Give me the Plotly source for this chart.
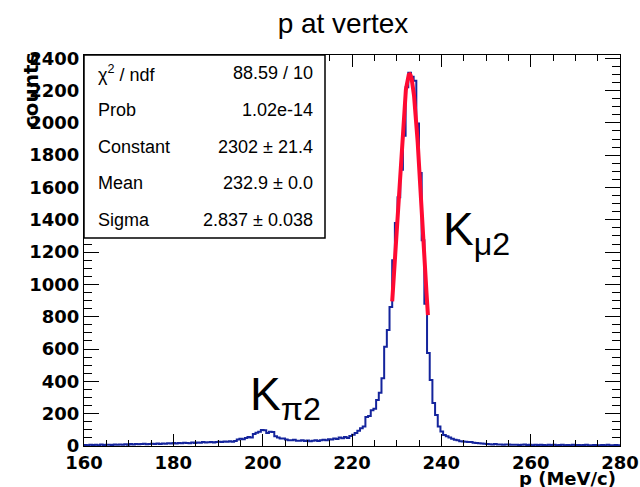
import numpy as np
import plotly.graph_objects as go

# ---------------- data ----------------
x_min, x_max, bin_width = 160.0, 280.0, 0.6
counts = [
    6, 5, 8, 6, 7, 5, 9, 6, 8, 7, 6, 10, 7, 9, 8, 11, 8,
    12, 10, 13, 11, 12, 14, 11, 13,
    14, 12, 15, 13, 16, 14, 17, 15,
    18, 16, 19, 17, 20, 18, 17, 21, 19,
    22, 20, 24, 21, 23, 25, 22, 24,
    26, 24, 28, 27, 30, 26, 31,
    40, 45, 42,
    50, 56, 52,
    75, 82, 88,
    99, 97, 80, 88, 86, 60, 52, 47, 46, 40, 36, 35, 38, 33,
    32, 35, 31, 34, 30, 33, 36, 31, 35, 38, 36, 42, 40, 47, 44, 52, 48, 55, 50, 62,
    70, 80, 95, 110, 120, 180, 185, 222, 230, 285, 330, 420,
    614, 718, 860, 1150, 1380, 1540, 1710, 1920, 2220, 2310,
    2285, 2260, 1996, 1690, 1274, 880, 575, 408, 266, 192,
    120, 90, 68, 60, 52, 45, 38, 36,
    30, 28, 27, 24, 25, 20, 18, 17, 16, 14, 12, 11, 10, 12, 9, 10, 8, 9, 10, 8,
    7, 8, 6, 7, 9, 6, 7, 5, 8, 6, 7, 6, 5, 7, 6, 8, 5, 6, 7, 5,
    6, 5, 7, 4, 6, 5, 6, 7, 5, 4, 6, 5, 4, 6, 5, 7, 4, 5, 6, 4,
]

fit_constant = 2302.0
fit_mean = 232.9
fit_sigma = 2.837
fit_low, fit_high = 229.0, 237.0

stats_labels = ["χ<sup>2</sup> / ndf", "Prob", "Constant", "Mean", "Sigma"]
stats_values = ["88.59 / 10", "1.02e-14", "2302 ± 21.4", "232.9 ± 0.0", "2.837 ± 0.038"]

title_text = "p at vertex"
x_title = "p (MeV/c)"
y_title = "counts"

# ---------------- figure ----------------
n_bins = len(counts)
edges = x_min + bin_width * np.arange(n_bins + 1)
step_y = counts + [counts[-1]]

fx = np.linspace(fit_low, fit_high, 200)
fy = fit_constant * np.exp(-0.5 * ((fx - fit_mean) / fit_sigma) ** 2)

HIST_COLOR = "#14249c"
FIT_COLOR = "#ff0a32"

fig = go.Figure()
fig.add_trace(go.Scatter(x=edges, y=step_y, mode="lines",
                         line=dict(shape="hv", color=HIST_COLOR, width=2),
                         hoverinfo="skip"))
fig.add_trace(go.Scatter(x=fx, y=fy, mode="lines",
                         line=dict(color=FIT_COLOR, width=4),
                         hoverinfo="skip"))

L, R, T, B = 84, 20, 55, 41
W, H = 640, 487
PW, PH = W - L - R, H - T - B

def px(x):
    return (x - L) / PW

def py(y):
    return (T + PH - y) / PH

tick_font = dict(family="DejaVu Sans", size=18, color="black", weight="bold")

fig.update_layout(
    width=W, height=H,
    margin=dict(l=L, r=R, t=T, b=B, autoexpand=False),
    plot_bgcolor="white", paper_bgcolor="white",
    showlegend=False,
    title=dict(text=title_text, x=343 / W, xanchor="center",
               y=1 - 23 / H, yanchor="middle",
               font=dict(family="Liberation Sans", size=28, color="black")),
)
fig.update_xaxes(
    range=[x_min, x_max], tickmode="linear", tick0=160, dtick=20,
    ticks="inside", ticklen=12, tickwidth=1, tickcolor="black",
    showline=True, linecolor="black", linewidth=1, mirror="ticks",
    showgrid=False, zeroline=False, tickfont=tick_font, automargin=False,
    minor=dict(dtick=5, ticklen=6, ticks="inside", tickcolor="black", showgrid=False),
)
fig.update_yaxes(
    range=[0, 2420], tickmode="linear", tick0=0, dtick=200,
    ticks="inside", ticklen=15, tickwidth=1, tickcolor="black",
    showline=True, linecolor="black", linewidth=1, mirror="ticks",
    showgrid=False, zeroline=False, tickfont=tick_font, automargin=False,
    minor=dict(dtick=50, ticklen=8, ticks="inside", tickcolor="black", showgrid=False),
)

# stats box
box_right, box_bottom = 325, 238
fig.add_shape(type="rect", xref="paper", yref="paper",
              x0=0, x1=px(box_right), y0=py(box_bottom), y1=1,
              fillcolor="white", line=dict(color="black", width=1.5), layer="above")
row_h = (box_bottom - T) / len(stats_labels)
for i, (lab, val) in enumerate(zip(stats_labels, stats_values)):
    yc = T + row_h * (i + 0.5)
    fig.add_annotation(xref="paper", yref="paper", x=px(96), y=py(yc),
                       text=lab, showarrow=False, xanchor="left", yanchor="middle",
                       font=dict(family="Liberation Sans", size=18, color="black"))
    fig.add_annotation(xref="paper", yref="paper", x=px(315), y=py(yc),
                       text=val, showarrow=False, xanchor="right", yanchor="middle",
                       font=dict(family="Liberation Sans", size=18, color="black"))

# axis titles
fig.add_annotation(xref="paper", yref="paper", x=px(618), y=py(466),
                   text=x_title, showarrow=False, xanchor="right", yanchor="top",
                   font=dict(family="DejaVu Sans", size=18, color="black", weight="bold"))
fig.add_annotation(xref="paper", yref="paper", x=px(31), y=py(50),
                   text=y_title, showarrow=False, textangle=-90,
                   xanchor="center", yanchor="top",
                   font=dict(family="DejaVu Sans", size=20, color="black", weight="bold"))

# peak labels
fig.add_annotation(x=240.0, y=1320, text="K<sub>μ2</sub>", showarrow=False,
                   xanchor="left", yanchor="middle",
                   font=dict(family="Liberation Sans", size=46, color="black"))
fig.add_annotation(x=196.8, y=300, text="K<sub>π2</sub>", showarrow=False,
                   xanchor="left", yanchor="middle",
                   font=dict(family="Liberation Sans", size=46, color="black"))

fig.write_html("out.html", config={"displayModeBar": False},
               post_script="document.body.style.margin='0px';")
